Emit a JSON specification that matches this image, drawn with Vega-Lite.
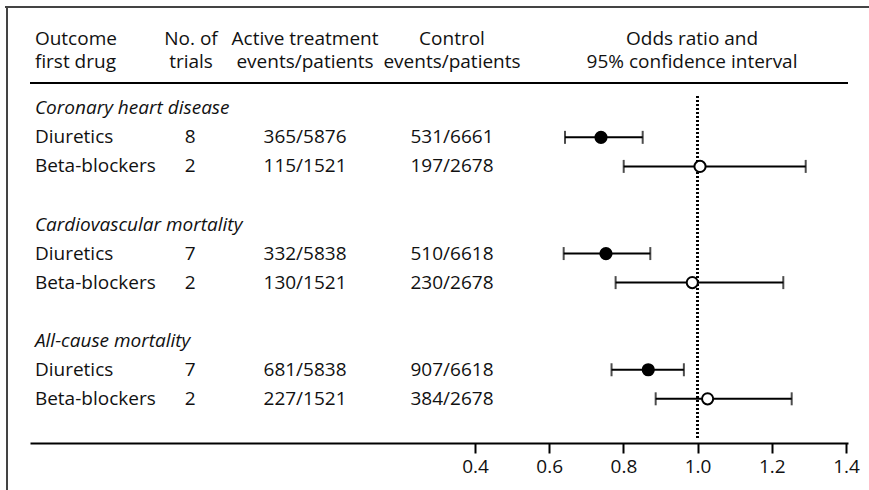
{
  "$schema": "https://vega.github.io/schema/vega-lite/v6.json",
  "autosize": {"type": "none"},
  "width": 818,
  "height": 436,
  "padding": {"left": 30, "top": 7, "right": 21, "bottom": 47},
  "background": "white",
  "config": {
    "view": {"stroke": null},
    "font": "Open Sans",
    "text": {"font": "Open Sans", "fontSize": 19, "color": "#111"}
  },
  "datasets": {
    "table": [
      {"r": 0, "label": "Coronary heart disease", "kind": "title"},
      {"r": 1, "label": "Diuretics", "kind": "row", "trials": "8", "active": "365/5876", "control": "531/6661", "or": 0.7396, "lo": 0.6426, "hi": 0.852},
      {"r": 2, "label": "Beta-blockers", "kind": "row", "trials": "2", "active": "115/1521", "control": "197/2678", "or": 1.0065, "lo": 0.8008, "hi": 1.2914},
      {"r": 4, "label": "Cardiovascular mortality", "kind": "title"},
      {"r": 5, "label": "Diuretics", "kind": "row", "trials": "7", "active": "332/5838", "control": "510/6618", "or": 0.753, "lo": 0.639, "hi": 0.8725},
      {"r": 6, "label": "Beta-blockers", "kind": "row", "trials": "2", "active": "130/1521", "control": "230/2678", "or": 0.9857, "lo": 0.779, "hi": 1.231},
      {"r": 8, "label": "All-cause mortality", "kind": "title"},
      {"r": 9, "label": "Diuretics", "kind": "row", "trials": "7", "active": "681/5838", "control": "907/6618", "or": 0.867, "lo": 0.768, "hi": 0.963},
      {"r": 10, "label": "Beta-blockers", "kind": "row", "trials": "2", "active": "227/1521", "control": "384/2678", "or": 1.027, "lo": 0.887, "hi": 1.2536}
    ],
    "headers": [
      {"col": "outcome", "text": "Outcome\nfirst drug"},
      {"col": "trials", "text": "No. of\ntrials"},
      {"col": "active", "text": "Active treatment\nevents/patients"},
      {"col": "control", "text": "Control\nevents/patients"},
      {"col": "or", "text": "Odds ratio and\n95% confidence interval"}
    ]
  },
  "data": {"name": "table"},
  "layer": [
    {
      "mark": {"type": "rule", "color": "#444", "strokeWidth": 1.5},
      "encoding": {
        "x": {"datum": -0.8668, "type": "quantitative", "scale": {"domain": [-0.7995, 1.4054], "nice": false, "zero": false},
          "axis": {"values": [0.4, 0.6, 0.8, 1.0, 1.2, 1.4], "format": ".1f", "title": null, "grid": false,
            "domainColor": "#000", "domainWidth": 2, "tickColor": "#000", "tickWidth": 2, "tickSize": 10,
            "labelFont": "Open Sans", "labelFontSize": 19, "labelColor": "#111", "labelPadding": 4}},
        "x2": {"datum": 1.47},
        "y": {"datum": -3.487, "type": "quantitative", "scale": {"domain": [-3.487, 11.521], "reverse": true, "nice": false, "zero": false}, "axis": null}
      }
    },
    {
      "mark": {"type": "rule", "color": "#444", "strokeWidth": 1.5},
      "encoding": {
        "x": {"datum": -0.8615, "type": "quantitative"},
        "y": {"datum": -3.487, "type": "quantitative"},
        "y2": {"datum": 14}
      }
    },
    {
      "mark": {"type": "rule", "color": "#000", "strokeWidth": 2},
      "encoding": {
        "x": {"datum": -0.7995, "type": "quantitative"},
        "x2": {"datum": 1.4054},
        "y": {"datum": -0.871, "type": "quantitative"}
      }
    },
    {
      "mark": {"type": "rule", "color": "#000", "strokeWidth": 2, "strokeDash": [2, 2]},
      "encoding": {
        "x": {"datum": 1.0, "type": "quantitative"},
        "y": {"datum": -0.42, "type": "quantitative"},
        "y2": {"datum": 11.42}
      }
    },
    {
      "transform": [{"filter": "datum.kind === 'row'"}],
      "mark": {"type": "rule", "color": "#000", "strokeWidth": 2},
      "encoding": {
        "x": {"field": "lo", "type": "quantitative"},
        "x2": {"field": "hi"},
        "y": {"field": "r", "type": "quantitative"}
      }
    },
    {
      "transform": [{"filter": "datum.kind === 'row'"}],
      "mark": {"type": "tick", "orient": "vertical", "color": "#000", "thickness": 2, "size": 13},
      "encoding": {
        "x": {"field": "lo", "type": "quantitative"},
        "y": {"field": "r", "type": "quantitative"}
      }
    },
    {
      "transform": [{"filter": "datum.kind === 'row'"}],
      "mark": {"type": "tick", "orient": "vertical", "color": "#000", "thickness": 2, "size": 13},
      "encoding": {
        "x": {"field": "hi", "type": "quantitative"},
        "y": {"field": "r", "type": "quantitative"}
      }
    },
    {
      "transform": [{"filter": "datum.kind === 'row'"}],
      "mark": {"type": "point", "shape": "circle", "filled": true, "stroke": "#000", "strokeWidth": 2, "size": 125, "opacity": 1},
      "encoding": {
        "x": {"field": "or", "type": "quantitative"},
        "y": {"field": "r", "type": "quantitative"},
        "fill": {"field": "label", "type": "nominal", "scale": {"domain": ["Diuretics", "Beta-blockers"], "range": ["#000", "#fff"]}, "legend": null}
      }
    },
    {
      "transform": [{"filter": "datum.kind === 'title'"}],
      "mark": {"type": "text", "align": "left", "baseline": "middle", "fontStyle": "italic"},
      "encoding": {
        "x": {"datum": -0.7863, "type": "quantitative"},
        "y": {"field": "r", "type": "quantitative"},
        "text": {"field": "label"}
      }
    },
    {
      "transform": [{"filter": "datum.kind === 'row'"}],
      "mark": {"type": "text", "align": "left", "baseline": "middle"},
      "encoding": {
        "x": {"datum": -0.7863, "type": "quantitative"},
        "y": {"field": "r", "type": "quantitative"},
        "text": {"field": "label"}
      }
    },
    {
      "transform": [{"filter": "datum.kind === 'row'"}],
      "mark": {"type": "text", "align": "center", "baseline": "middle"},
      "encoding": {
        "x": {"datum": -0.368, "type": "quantitative"},
        "y": {"field": "r", "type": "quantitative"},
        "text": {"field": "trials"}
      }
    },
    {
      "transform": [{"filter": "datum.kind === 'row'"}],
      "mark": {"type": "text", "align": "center", "baseline": "middle"},
      "encoding": {
        "x": {"datum": -0.0582, "type": "quantitative"},
        "y": {"field": "r", "type": "quantitative"},
        "text": {"field": "active"}
      }
    },
    {
      "transform": [{"filter": "datum.kind === 'row'"}],
      "mark": {"type": "text", "align": "center", "baseline": "middle"},
      "encoding": {
        "x": {"datum": 0.338, "type": "quantitative"},
        "y": {"field": "r", "type": "quantitative"},
        "text": {"field": "control"}
      }
    },
    {
      "data": {"name": "headers"},
      "transform": [{"filter": "datum.col === 'outcome'"}],
      "mark": {"type": "text", "align": "left", "baseline": "alphabetic", "lineBreak": "\n", "lineHeight": 23},
      "encoding": {
        "x": {"datum": -0.7863, "type": "quantitative"},
        "y": {"datum": -2.179, "type": "quantitative"},
        "text": {"field": "text"}
      }
    },
    {
      "data": {"name": "headers"},
      "transform": [{"filter": "datum.col === 'trials'"}],
      "mark": {"type": "text", "align": "center", "baseline": "alphabetic", "lineBreak": "\n", "lineHeight": 23},
      "encoding": {
        "x": {"datum": -0.3655, "type": "quantitative"},
        "y": {"datum": -2.179, "type": "quantitative"},
        "text": {"field": "text"}
      }
    },
    {
      "data": {"name": "headers"},
      "transform": [{"filter": "datum.col === 'active'"}],
      "mark": {"type": "text", "align": "center", "baseline": "alphabetic", "lineBreak": "\n", "lineHeight": 23},
      "encoding": {
        "x": {"datum": -0.0582, "type": "quantitative"},
        "y": {"datum": -2.179, "type": "quantitative"},
        "text": {"field": "text"}
      }
    },
    {
      "data": {"name": "headers"},
      "transform": [{"filter": "datum.col === 'control'"}],
      "mark": {"type": "text", "align": "center", "baseline": "alphabetic", "lineBreak": "\n", "lineHeight": 23},
      "encoding": {
        "x": {"datum": 0.338, "type": "quantitative"},
        "y": {"datum": -2.179, "type": "quantitative"},
        "text": {"field": "text"}
      }
    },
    {
      "data": {"name": "headers"},
      "transform": [{"filter": "datum.col === 'or'"}],
      "mark": {"type": "text", "align": "center", "baseline": "alphabetic", "lineBreak": "\n", "lineHeight": 23},
      "encoding": {
        "x": {"datum": 0.985, "type": "quantitative"},
        "y": {"datum": -2.179, "type": "quantitative"},
        "text": {"field": "text"}
      }
    }
  ]
}
